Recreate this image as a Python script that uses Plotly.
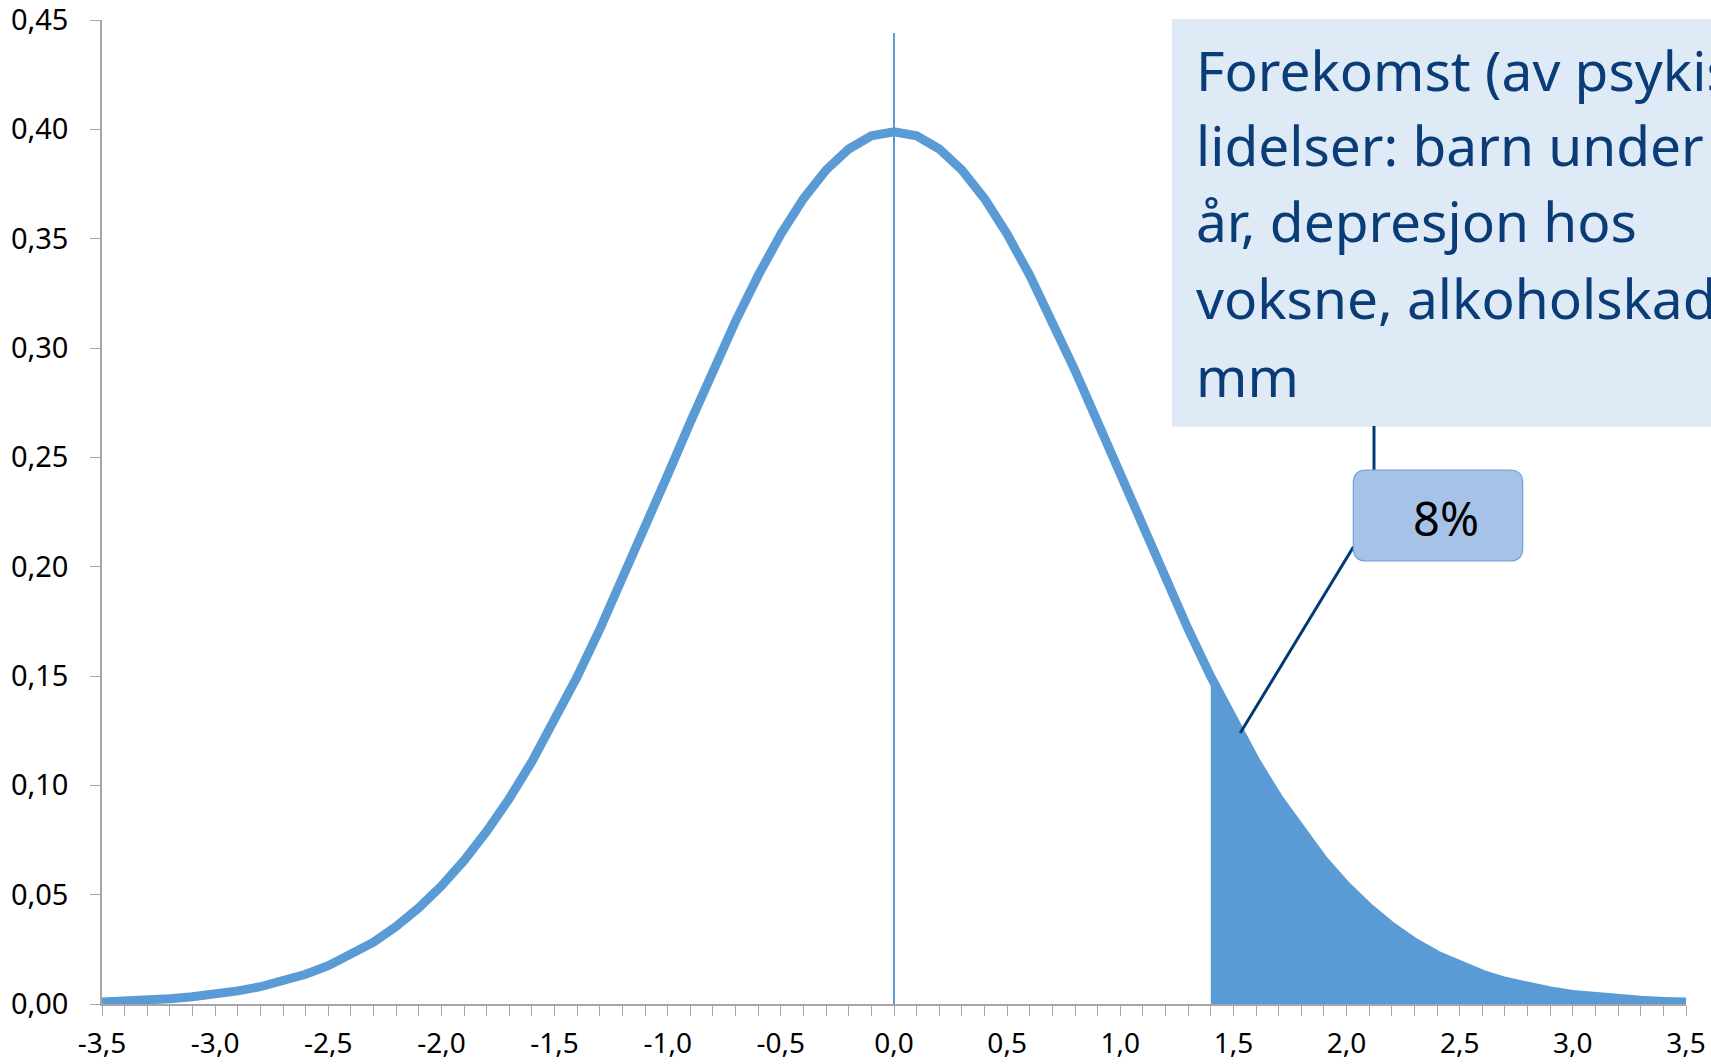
import plotly.graph_objects as go

# ---------------- data ----------------
x_vals = [-3.5, -3.4, -3.3, -3.2, -3.1, -3.0, -2.9, -2.8, -2.7, -2.6,
          -2.5, -2.4, -2.3, -2.2, -2.1, -2.0, -1.9, -1.8, -1.7, -1.6,
          -1.5, -1.4, -1.3, -1.2, -1.1, -1.0, -0.9, -0.8, -0.7, -0.6,
          -0.5, -0.4, -0.3, -0.2, -0.1, 0.0, 0.1, 0.2, 0.3, 0.4,
          0.5, 0.6, 0.7, 0.8, 0.9, 1.0, 1.1, 1.2, 1.3, 1.4,
          1.5, 1.6, 1.7, 1.8, 1.9, 2.0, 2.1, 2.2, 2.3, 2.4,
          2.5, 2.6, 2.7, 2.8, 2.9, 3.0, 3.1, 3.2, 3.3, 3.4, 3.5]
density = [0.0009, 0.0012, 0.0017, 0.0024, 0.0033, 0.0044, 0.0060, 0.0079, 0.0104, 0.0136,
           0.0175, 0.0224, 0.0283, 0.0355, 0.0440, 0.0540, 0.0656, 0.0790, 0.0940, 0.1109,
           0.1295, 0.1497, 0.1714, 0.1942, 0.2179, 0.2420, 0.2661, 0.2897, 0.3123, 0.3332,
           0.3521, 0.3683, 0.3814, 0.3910, 0.3970, 0.3989, 0.3970, 0.3910, 0.3814, 0.3683,
           0.3521, 0.3332, 0.3123, 0.2897, 0.2661, 0.2420, 0.2179, 0.1942, 0.1714, 0.1497,
           0.1295, 0.1109, 0.0940, 0.0790, 0.0656, 0.0540, 0.0440, 0.0355, 0.0283, 0.0224,
           0.0175, 0.0136, 0.0104, 0.0079, 0.0060, 0.0044, 0.0033, 0.0024, 0.0017, 0.0012, 0.0009]
shade_from = 1.4

vline_x = [0.0, 0.0]
vline_y = [0.0, 0.444]

y_ticks = [0.00, 0.05, 0.10, 0.15, 0.20, 0.25, 0.30, 0.35, 0.40, 0.45]
y_ticklabels = ["0,00", "0,05", "0,10", "0,15", "0,20", "0,25", "0,30", "0,35", "0,40", "0,45"]
x_major = [-3.5, -3.0, -2.5, -2.0, -1.5, -1.0, -0.5, 0.0, 0.5, 1.0, 1.5, 2.0, 2.5, 3.0, 3.5]
x_major_labels = ["-3,5", "-3,0", "-2,5", "-2,0", "-1,5", "-1,0", "-0,5", "0,0",
                  "0,5", "1,0", "1,5", "2,0", "2,5", "3,0", "3,5"]

callout_label = "8%"
callout_target_x = 1.53
callout_target_y = 0.1239
box_lines = ["Forekomst (av psykiske", "lidelser: barn under 18", "år, depresjon hos",
             "voksne, alkoholskader", "mm"]

# ---------------- layout geometry ----------------
W, H = 1711, 1064
ML, MR, MT, MB = 102, 25, 20, 60
PW, PH = W - ML - MR, H - MT - MB
Y0PX = MT + PH

def px(xp):
    return (xp - ML) / PW

def py(yp):
    return (Y0PX - yp) / PH

BLUE = "#5B9BD5"
NAVY = "#0A3C77"
AXIS = "#A6A6A6"
FONT = "Noto Sans"

shade_x = [x for x in x_vals if x >= shade_from - 1e-9]
shade_y = [d for x, d in zip(x_vals, density) if x >= shade_from - 1e-9]

fig = go.Figure()
fig.add_trace(go.Scatter(x=shade_x, y=shade_y, mode="lines", fill="tozeroy",
                         fillcolor=BLUE, line=dict(width=0, color=BLUE),
                         hoverinfo="skip", showlegend=False))
fig.add_trace(go.Scatter(x=x_vals, y=density, mode="lines",
                         line=dict(color=BLUE, width=9), showlegend=False))
fig.add_trace(go.Scatter(x=vline_x, y=vline_y, mode="lines",
                         line=dict(color=BLUE, width=2), showlegend=False))

x_ticktext = []
for x in x_vals:
    lab = ""
    for m, t in zip(x_major, x_major_labels):
        if abs(m - x) < 1e-9:
            lab = t
    x_ticktext.append(lab)

shapes = []
# big text box (extends past the right edge)
shapes.append(dict(type="rect", xref="paper", yref="paper",
                   x0=px(1172), x1=px(1760), y0=py(426.7), y1=py(19),
                   fillcolor="#DEEAF6", line=dict(width=0), layer="above"))
# connector text box -> 8% box
shapes.append(dict(type="line", xref="paper", yref="paper",
                   x0=px(1374), x1=px(1374), y0=py(426), y1=py(471),
                   line=dict(color="#003A75", width=3), layer="above"))
# connector 8% box -> curve
shapes.append(dict(type="line", xref="paper", yref="paper",
                   x0=px(1353.5), y0=py(546.7),
                   x1=px(ML + (callout_target_x - x_vals[0]) / (x_vals[-1] - x_vals[0]) * PW),
                   y1=py(Y0PX - callout_target_y / y_ticks[-1] * PH),
                   line=dict(color="#003A75", width=3), layer="above"))
# rounded 8% box
bx0, bx1, by0, by1, r = 1353.3, 1522.7, 470, 561, 13
path = (f"M {px(bx0 + r)},{py(by0)} L {px(bx1 - r)},{py(by0)} "
        f"Q {px(bx1)},{py(by0)} {px(bx1)},{py(by0 + r)} "
        f"L {px(bx1)},{py(by1 - r)} Q {px(bx1)},{py(by1)} {px(bx1 - r)},{py(by1)} "
        f"L {px(bx0 + r)},{py(by1)} Q {px(bx0)},{py(by1)} {px(bx0)},{py(by1 - r)} "
        f"L {px(bx0)},{py(by0 + r)} Q {px(bx0)},{py(by0)} {px(bx0 + r)},{py(by0)} Z")
shapes.append(dict(type="path", xref="paper", yref="paper", path=path,
                   fillcolor="#A6C3E7", line=dict(color="#6FA0D6", width=1.2), layer="above"))

annotations = []
line_centers = [69, 144.7, 220.7, 297.7, 375.7]
for txt, cy in zip(box_lines, line_centers):
    annotations.append(dict(text=txt, xref="paper", yref="paper", x=px(1194), y=py(cy),
                            xanchor="left", yanchor="middle", showarrow=False,
                            font=dict(family=FONT, size=55, color=NAVY)))
annotations.append(dict(text=callout_label, xref="paper", yref="paper",
                        x=px(1446), y=py(517.5), xanchor="center", yanchor="middle",
                        showarrow=False, font=dict(family=FONT, size=47, color="#000000")))

fig.update_layout(
    width=W, height=H,
    margin=dict(l=ML, r=MR, t=MT, b=MB, pad=0, autoexpand=False),
    paper_bgcolor="white", plot_bgcolor="white",
    showlegend=False,
    shapes=shapes, annotations=annotations,
    xaxis=dict(range=[x_vals[0], x_vals[-1]], tickmode="array", tickvals=x_vals,
               ticktext=x_ticktext, ticks="outside", ticklen=10, tickwidth=1.2,
               tickcolor=AXIS, showline=True, linecolor=AXIS, linewidth=1.5,
               showgrid=False, zeroline=False, ticklabelstandoff=4, automargin=False,
               ticklabeloverflow="allow",
               tickfont=dict(family=FONT, size=28, color="#000000")),
    yaxis=dict(range=[y_ticks[0], y_ticks[-1]], tickmode="array", tickvals=y_ticks,
               ticktext=y_ticklabels, ticks="outside", ticklen=10, tickwidth=1.2,
               tickcolor=AXIS, showline=True, linecolor=AXIS, linewidth=1.5,
               showgrid=False, zeroline=False, ticklabelstandoff=16, automargin=False,
               ticklabeloverflow="allow",
               tickfont=dict(family=FONT, size=29, color="#000000")),
)

fig.write_html("out.html")
